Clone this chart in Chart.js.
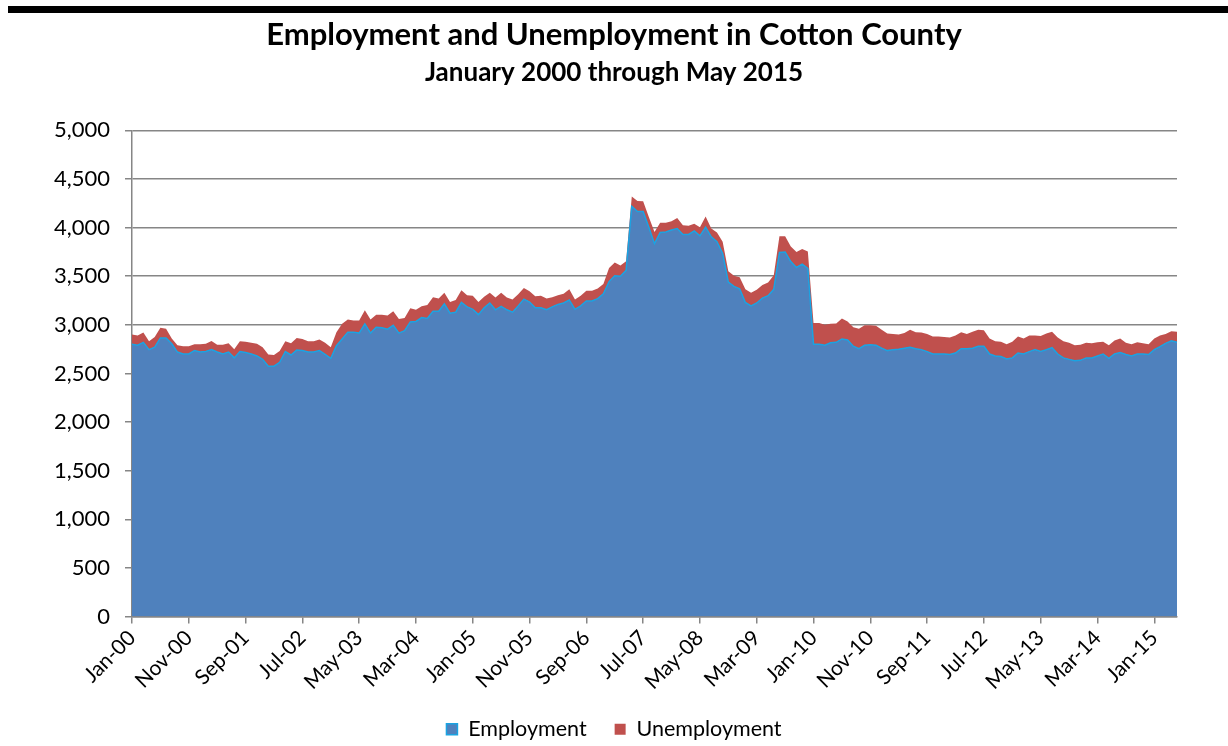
<!DOCTYPE html>
<html>
<head>
<meta charset="utf-8">
<title>Employment and Unemployment in Cotton County</title>
<script src="https://cdn.jsdelivr.net/npm/chart.js@4.4.1/dist/chart.umd.min.js"></script>
<style>
  html, body { margin: 0; padding: 0; background: #fff; }
  #wrap { width: 1228px; height: 746px; position: relative; }
</style>
</head>
<body>
<div id="wrap"><canvas id="laborChart"></canvas></div>
<script>
// Monthly series, January 2000 through May 2015
const monthNames = ['Jan', 'Feb', 'Mar', 'Apr', 'May', 'Jun', 'Jul', 'Aug', 'Sep', 'Oct', 'Nov', 'Dec'];
const firstYear = 2000;
const monthCount = 185;

const employment = [
    2800, 2790, 2820, 2745, 2770, 2865, 2865, 2805, 2720, 2700,
    2700, 2735, 2720, 2725, 2745, 2720, 2700, 2720, 2660, 2725,
    2715, 2700, 2680, 2645, 2575, 2575, 2615, 2725, 2690, 2740,
    2735, 2720, 2720, 2735, 2695, 2655, 2785, 2855, 2925, 2925,
    2915, 3010, 2915, 2975, 2970, 2955, 2995, 2915, 2940, 3030,
    3035, 3075, 3065, 3140, 3140, 3215, 3120, 3130, 3230, 3185,
    3160, 3105, 3175, 3225, 3155, 3190, 3155, 3130, 3195, 3265,
    3235, 3175, 3175, 3155, 3185, 3210, 3225, 3255, 3160, 3195,
    3245, 3245, 3270, 3320, 3445, 3505, 3500, 3560, 4220, 4165,
    4165, 4005, 3835, 3950, 3955, 3975, 3990, 3930, 3930, 3965,
    3915, 4005, 3905, 3855, 3735, 3440, 3395, 3370, 3230, 3195,
    3225, 3275, 3300, 3365, 3745, 3750, 3650, 3590, 3625, 3580,
    2800, 2800, 2790, 2815, 2820, 2855, 2845, 2780, 2755, 2790,
    2795, 2790, 2760, 2735, 2745, 2750, 2760, 2770, 2755, 2745,
    2725, 2700, 2700, 2700, 2695, 2710, 2755, 2755, 2760, 2780,
    2780, 2700, 2680, 2675, 2650, 2660, 2710, 2700, 2725, 2745,
    2725, 2745, 2765, 2700, 2660, 2645, 2630, 2635, 2660, 2660,
    2680, 2700, 2655, 2700, 2715, 2695, 2680, 2700, 2700, 2695,
    2745, 2775, 2810, 2835, 2820
];

const unemployment = [
    100, 100, 100, 85, 105, 105, 95, 55, 70, 80,
    80, 65, 80, 80, 90, 75, 95, 90, 90, 105,
    110, 115, 125, 125, 120, 115, 115, 105, 120, 125,
    120, 110, 110, 115, 120, 115, 140, 155, 130, 120,
    130, 140, 140, 130, 135, 140, 145, 145, 130, 140,
    120, 115, 140, 145, 130, 115, 115, 125, 125, 120,
    140, 130, 115, 105, 125, 140, 125, 130, 120, 115,
    110, 120, 125, 115, 100, 95, 95, 110, 100, 105,
    105, 105, 105, 100, 140, 135, 110, 95, 100, 110,
    105, 105, 120, 100, 95, 90, 110, 95, 90, 75,
    90, 110, 85, 95, 120, 110, 110, 120, 135, 135,
    135, 135, 135, 145, 165, 160, 155, 160, 155, 175,
    220, 220, 210, 195, 195, 210, 190, 195, 205, 205,
    200, 200, 190, 175, 160, 150, 155, 180, 170, 175,
    180, 180, 180, 175, 175, 180, 170, 150, 170, 170,
    165, 160, 150, 150, 150, 165, 170, 160, 165, 145,
    160, 165, 165, 170, 170, 170, 160, 160, 155, 150,
    140, 125, 135, 140, 145, 120, 120, 120, 110, 105,
    115, 115, 95, 100, 110
];

// "Jan-00", "Feb-00", ... ; only every tenth one is shown on the axis
const months = [];
for (let i = 0; i < monthCount; i++) {
    const yy = String((firstYear + Math.floor(i / 12)) % 100).padStart(2, '0');
    months.push(monthNames[i % 12] + '-' + yy);
}
const labelEvery = 10;

const axisGray = '#868686';
const fontFamily = 'Lato, "Open Sans", sans-serif';

// thick black rule across the top of the page
const topRule = {
    id: 'topRule',
    beforeDraw(chart) {
        const ctx = chart.ctx;
        ctx.save();
        ctx.fillStyle = '#fff';
        ctx.fillRect(0, 0, chart.width, chart.height);
        ctx.fillStyle = '#000';
        ctx.fillRect(8, 6, chart.width - 8, 7);
        ctx.restore();
    }
};

function createLaborChart() {
    const ctx = document.getElementById('laborChart').getContext('2d');

    new Chart(ctx, {
        type: 'line',
        data: {
            labels: months,
            datasets: [{
                label: 'Employment',
                data: employment,
                backgroundColor: '#4f81bd',
                borderColor: '#1aa3e2',
                borderWidth: 1.5,
                fill: 'origin',
                pointRadius: 0,
                tension: 0
            }, {
                label: 'Unemployment',
                data: unemployment,
                backgroundColor: '#c0504d',
                borderColor: '#c0504d',
                borderWidth: 0,
                fill: '-1',
                pointRadius: 0,
                tension: 0
            }]
        },
        options: {
            responsive: true,
            maintainAspectRatio: false,
            animation: false,
            layout: {
                padding: { top: 0, left: 0, right: 0, bottom: -4 }
            },
            scales: {
                x: {
                    offset: false,
                    afterFit(scale) { scale.height = 74; },
                    border: { color: axisGray, width: 1.5 },
                    grid: {
                        drawOnChartArea: false,
                        drawTicks: true,
                        tickLength: 7,
                        color: axisGray,
                        lineWidth: 1.5
                    },
                    ticks: {
                        autoSkip: false,
                        maxRotation: 45,
                        minRotation: 45,
                        padding: 2,
                        color: '#000',
                        font: { family: fontFamily, size: 21 },
                        callback: (value, index) => index % labelEvery === 0 ? months[index] : null
                    }
                },
                y: {
                    stacked: true,
                    min: 0,
                    max: 5000,
                    afterFit(scale) { scale.width = 132; },
                    border: { color: axisGray, width: 1.5 },
                    grid: {
                        color: axisGray,
                        lineWidth: 1.5,
                        tickLength: 7
                    },
                    ticks: {
                        stepSize: 500,
                        padding: 15,
                        color: '#000',
                        font: { family: fontFamily, size: 22 }
                    }
                },
                // empty strip on the right so titles and legend center on the page
                yRight: {
                    position: 'right',
                    afterFit(scale) { scale.width = 51; },
                    grid: { display: false },
                    border: { display: false },
                    ticks: { display: false }
                }
            },
            plugins: {
                title: {
                    display: true,
                    text: 'Employment and Unemployment in Cotton County',
                    color: '#000',
                    font: { family: fontFamily, size: 31, weight: 'bold' },
                    padding: { top: 16, bottom: 0 }
                },
                subtitle: {
                    display: true,
                    text: 'January 2000 through May 2015',
                    color: '#000',
                    font: { family: fontFamily, size: 26, weight: 'bold' },
                    padding: { top: 4, bottom: 42 }
                },
                legend: {
                    position: 'bottom',
                    labels: {
                        color: '#000',
                        font: { family: fontFamily, size: 21.5 },
                        boxWidth: 11,
                        boxHeight: 11,
                        padding: 28
                    }
                },
                tooltip: { enabled: false }
            }
        },
        plugins: [topRule]
    });
}

document.addEventListener('DOMContentLoaded', createLaborChart);
</script>
</body>
</html>
